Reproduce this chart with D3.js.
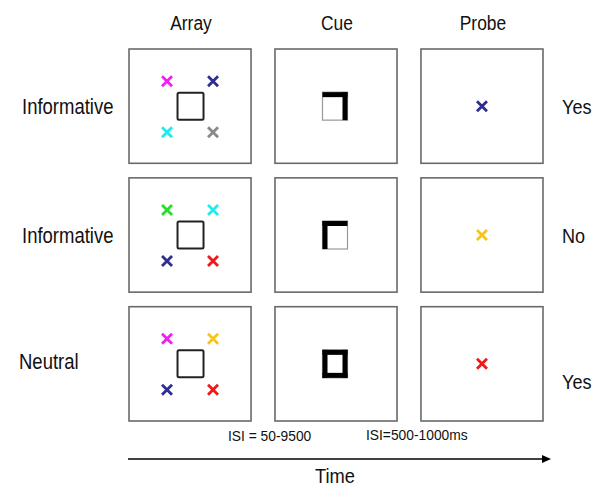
<!DOCTYPE html>
<html><head><meta charset="utf-8">
<script src="https://cdn.jsdelivr.net/npm/d3@7"></script>
<style>body{margin:0;background:#fff}svg{display:block}text{font-family:"Liberation Sans",Arial,sans-serif;fill:#111}</style>
</head><body><svg id="c" width="601" height="491"></svg>
<script>
const columns = ["Array", "Cue", "Probe"];
const rowLabels = ["Informative", "Informative", "Neutral"];
const responses = ["Yes", "No", "Yes"];
// array colours: top-left, top-right, bottom-left, bottom-right
const arrayColors = [
  ["#f020f0", "#2e2e92", "#20ecec", "#8a8a8a"],
  ["#26e026", "#20ecec", "#2e2e92", "#f01818"],
  ["#f020f0", "#f5c518", "#2e2e92", "#f01818"]
];
// which sides of the cue square are thick
const cueSides = [["top", "right"], ["top", "left"], ["top", "right", "bottom", "left"]];
const probeColors = ["#2e2e92", "#f5c518", "#f01818"];
const isiLabels = ["ISI = 50-9500", "ISI=500-1000ms"];
const axisLabel = "Time";

const svg = d3.select("#c");
const x = d3.scaleBand().domain(columns).range([129, 543]).paddingInner(0.164).paddingOuter(0);
const y = d3.scaleBand().domain(d3.range(3)).range([49, 421]).paddingInner(0.113).paddingOuter(0);
const fw = x.bandwidth(), fh = y.bandwidth();

// condensed text (reference uses a narrow sans)
function narrow(sel, k) {
  sel.each(function () {
    const L = this.getComputedTextLength();
    d3.select(this).attr("textLength", L * k).attr("lengthAdjust", "spacingAndGlyphs");
  });
  return sel;
}

function drawX(g, cx, cy, color) {
  const s = 5;
  g.append("path")
    .attr("d", `M${cx - s},${cy - s}L${cx + s},${cy + s}M${cx + s},${cy - s}L${cx - s},${cy + s}`)
    .attr("stroke", color).attr("stroke-width", 2.8).attr("fill", "none");
}

// column headers
narrow(svg.selectAll("text.col").data(columns).join("text").attr("class", "col")
  .attr("x", d => x(d) + fw / 2 + 1).attr("y", 30)
  .attr("text-anchor", "middle").attr("font-size", 20).text(d => d), 0.87);

d3.range(3).forEach(r => {
  const y0 = y(r), cy = y0 + fh / 2;
  // row label
  narrow(svg.append("text").attr("x", r === 2 ? 19 : 22).attr("y", cy + 8 + (r === 2 ? -3 : 0))
    .attr("font-size", 21.5).text(rowLabels[r]), 0.86);
  // response
  narrow(svg.append("text").attr("x", 562).attr("y", cy + 8 + (r === 2 ? 17 : 0))
    .attr("font-size", 21).text(responses[r]), 0.86);

  columns.forEach(c => {
    const x0 = x(c), cx = x0 + fw / 2;
    const g = svg.append("g");
    g.append("rect").attr("x", x0).attr("y", y0).attr("width", fw).attr("height", fh)
      .attr("fill", "#fff").attr("stroke", "#6a6a6a").attr("stroke-width", 1.6);
    if (c === "Array") {
      g.append("rect").attr("x", cx - 12.5).attr("y", cy - 13.5).attr("width", 26).attr("height", 27)
        .attr("fill", "#fff").attr("stroke", "#222").attr("stroke-width", 2).attr("rx", 1.5);
      const offs = [[-23, -25], [23, -25], [-23, 26], [23, 26]];
      arrayColors[r].forEach((col, i) => drawX(g, cx + offs[i][0], cy + offs[i][1], col));
    } else if (c === "Cue") {
      const w = 25, h = 28, t = 5, sx = cx - w / 2 - 1, sy = cy - h / 2;
      g.append("rect").attr("x", sx).attr("y", sy).attr("width", w).attr("height", h)
        .attr("fill", "#fff").attr("stroke", "#999").attr("stroke-width", 1.2);
      const sides = {
        top: [sx, sy, w, t], bottom: [sx, sy + h - t, w, t],
        left: [sx, sy, t, h], right: [sx + w - t, sy, t, h]
      };
      cueSides[r].forEach(sd => {
        const [a, b, ww, hh] = sides[sd];
        g.append("rect").attr("x", a).attr("y", b).attr("width", ww).attr("height", hh).attr("fill", "#000");
      });
    } else {
      drawX(g, cx, cy, probeColors[r]);
    }
  });
});

// ISI labels
narrow(svg.append("text").attr("x", 228).attr("y", 441).attr("font-size", 15).text(isiLabels[0]), 0.92);
narrow(svg.append("text").attr("x", 366).attr("y", 440).attr("font-size", 15).text(isiLabels[1]), 0.92);

// time arrow
const tx = d3.scaleLinear().domain([0, 1]).range([128, 551]);
svg.append("line").attr("x1", tx(0)).attr("x2", tx(1) - 8).attr("y1", 459).attr("y2", 459)
  .attr("stroke", "#000").attr("stroke-width", 1.6);
svg.append("path").attr("d", `M${tx(1)},459L${tx(1) - 9},455L${tx(1) - 9},463Z`).attr("fill", "#000");
narrow(svg.append("text").attr("x", 335).attr("y", 483).attr("text-anchor", "middle").attr("font-size", 21).text(axisLabel), 0.87);
</script></body></html>
